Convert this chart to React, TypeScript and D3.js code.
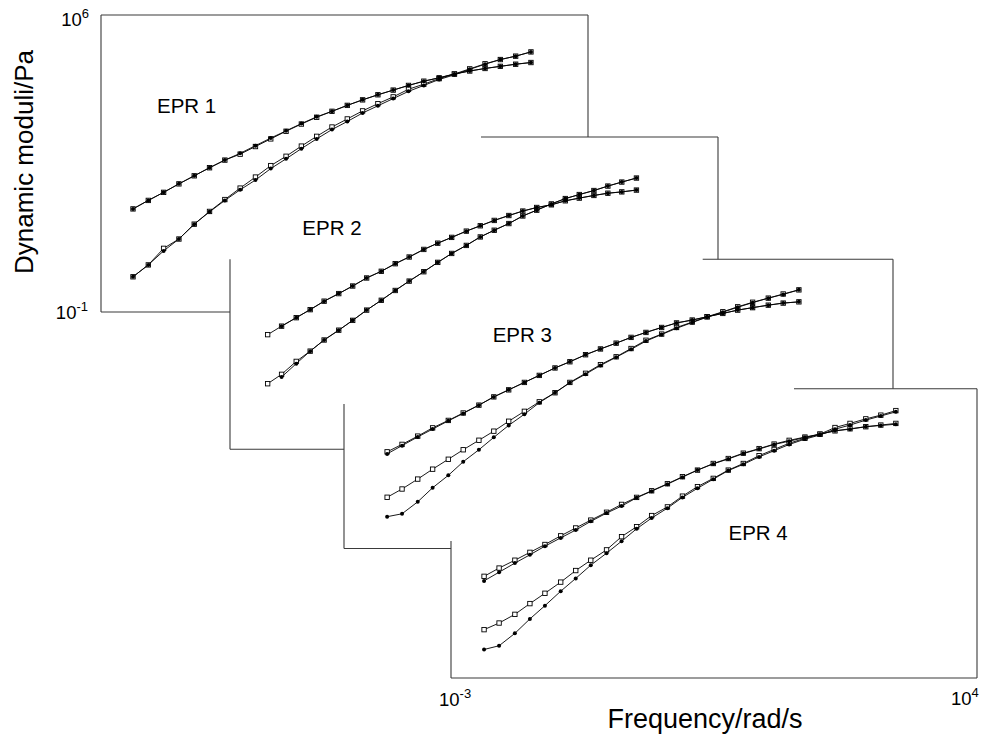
import React from 'react';
import * as d3 from 'd3';

// ---------- DATA (log10 of frequency in rad/s, log10 of modulus in Pa) ----------
const EPR1_LOGF = [-2.54,-2.32,-2.10,-1.88,-1.66,-1.44,-1.22,-1.00,-0.78,-0.56,-0.34,-0.12,0.10,0.32,0.54,0.76,0.98,1.20,1.42,1.64,1.86,2.08,2.30,2.52,2.74,2.96,3.18];
const EPR1_G2_OPEN = [1.43,1.63,1.82,2.02,2.21,2.40,2.58,2.72,2.90,3.08,3.26,3.43,3.59,3.73,3.87,4.00,4.12,4.23,4.34,4.44,4.52,4.61,4.68,4.74,4.79,4.84,4.88];
const EPR1_G2_FILLED = [1.43,1.63,1.82,2.02,2.21,2.40,2.58,2.74,2.92,3.10,3.27,3.44,3.60,3.73,3.87,4.00,4.12,4.23,4.34,4.44,4.52,4.61,4.68,4.74,4.79,4.84,4.88];
const EPR1_G1_OPEN = [-0.17,0.11,0.50,0.72,1.07,1.37,1.65,1.92,2.18,2.45,2.67,2.91,3.14,3.36,3.55,3.74,3.91,4.07,4.25,4.37,4.50,4.61,4.73,4.85,4.95,5.03,5.13];
const EPR1_G1_FILLED = [-0.17,0.11,0.44,0.72,1.07,1.36,1.63,1.88,2.11,2.38,2.61,2.85,3.08,3.30,3.49,3.69,3.86,4.03,4.20,4.34,4.48,4.59,4.72,4.84,4.95,5.03,5.13];

const EPR2_LOGF = [-2.46,-2.26,-2.05,-1.85,-1.65,-1.44,-1.24,-1.04,-0.83,-0.63,-0.43,-0.22,-0.02,0.18,0.39,0.59,0.79,1.00,1.20,1.40,1.61,1.81,2.01,2.22,2.42,2.62,2.83];
const EPR2_G2_OPEN = [1.57,1.76,1.95,2.13,2.32,2.49,2.66,2.84,2.99,3.16,3.31,3.48,3.62,3.75,3.89,4.01,4.13,4.24,4.34,4.42,4.48,4.57,4.63,4.69,4.74,4.77,4.81];
const EPR2_G2_FILLED = [null,1.76,1.95,2.13,2.32,2.49,2.66,2.84,2.99,3.16,3.31,3.48,3.62,3.75,3.89,4.01,4.13,4.24,4.34,4.42,4.48,4.57,4.63,4.69,4.74,4.77,4.81];
const EPR2_G1_OPEN = [0.47,0.68,0.97,1.20,1.45,1.67,1.89,2.12,2.34,2.56,2.77,2.98,3.19,3.39,3.57,3.76,3.91,4.06,4.23,4.36,4.50,4.62,4.71,4.80,4.90,4.99,5.08];
const EPR2_G1_FILLED = [null,0.62,0.92,1.20,1.45,1.67,1.89,2.12,2.34,2.56,2.77,2.98,3.19,3.39,3.57,3.76,3.91,4.06,4.23,4.36,4.50,4.62,4.71,4.80,4.90,4.99,5.08];

const EPR3_LOGF = [-2.45,-2.26,-2.06,-1.87,-1.67,-1.48,-1.28,-1.09,-0.90,-0.70,-0.51,-0.31,-0.12,0.08,0.27,0.47,0.66,0.85,1.05,1.24,1.44,1.63,1.83,2.02,2.21,2.41,2.60,2.80];
const EPR3_G2_OPEN = [1.34,1.52,1.72,1.92,2.10,2.28,2.47,2.67,2.84,3.02,3.19,3.37,3.52,3.69,3.83,3.97,4.11,4.23,4.35,4.46,4.53,4.61,4.69,4.77,4.83,4.89,4.94,4.97];
const EPR3_G2_FILLED = [1.29,1.49,1.70,1.89,2.09,2.27,2.47,2.67,2.84,3.02,3.19,3.37,3.52,3.69,3.83,3.97,4.11,4.23,4.35,4.46,4.53,4.61,4.69,4.77,4.83,4.89,4.94,4.97];
const EPR3_G1_OPEN = [0.24,0.44,0.68,0.92,1.16,1.39,1.62,1.84,2.08,2.32,2.55,2.77,3.02,3.24,3.45,3.64,3.84,4.04,4.19,4.35,4.48,4.61,4.73,4.85,4.96,5.06,5.16,5.26];
const EPR3_G1_FILLED = [-0.23,-0.16,0.13,0.47,0.77,1.10,1.39,1.69,1.98,2.25,2.53,2.77,3.01,3.22,3.43,3.63,3.82,4.02,4.18,4.33,4.47,4.60,4.72,4.84,4.95,5.06,5.15,5.26];

const EPR4_LOGF = [-2.56,-2.36,-2.15,-1.95,-1.75,-1.54,-1.34,-1.14,-0.93,-0.73,-0.53,-0.33,-0.12,0.08,0.28,0.49,0.69,0.89,1.10,1.30,1.50,1.71,1.91,2.11,2.31,2.52,2.72,2.92];
const EPR4_G2_OPEN = [1.46,1.66,1.85,2.04,2.23,2.44,2.63,2.82,3.01,3.20,3.37,3.53,3.70,3.87,4.03,4.19,4.31,4.44,4.55,4.66,4.75,4.83,4.90,4.98,5.03,5.08,5.12,5.16];
const EPR4_G2_FILLED = [1.35,1.56,1.78,1.98,2.19,2.39,2.58,2.79,2.99,3.16,3.36,3.52,3.69,3.86,4.03,4.18,4.30,4.43,4.54,4.65,4.73,4.82,4.90,4.98,5.02,5.08,5.11,5.14];
const EPR4_G1_OPEN = [0.17,0.33,0.54,0.80,1.05,1.32,1.60,1.85,2.10,2.42,2.66,2.93,3.14,3.40,3.63,3.83,4.03,4.19,4.38,4.53,4.68,4.80,4.90,5.06,5.16,5.27,5.36,5.47];
const EPR4_G1_FILLED = [-0.31,-0.22,0.08,0.43,0.75,1.10,1.41,1.73,2.02,2.31,2.61,2.87,3.11,3.37,3.59,3.81,4.02,4.17,4.35,4.50,4.65,4.78,4.88,5.02,5.12,5.24,5.34,5.44];

const PANEL_NAMES = ['EPR 1', 'EPR 2', 'EPR 3', 'EPR 4'];
const X_DOMAIN = [1e-3, 1e4];
const Y_DOMAIN = [1e-1, 1e6];
const X_TICKS = [{ base: '10', exp: '-3' }, { base: '10', exp: '4' }];
const Y_TICKS = [{ base: '10', exp: '6' }, { base: '10', exp: '-1' }];
const X_TITLE = 'Frequency/rad/s';
const Y_TITLE = 'Dynamic moduli/Pa';

const SERIES = [
  { logf: EPR1_LOGF, open: [EPR1_G2_OPEN, EPR1_G1_OPEN], filled: [EPR1_G2_FILLED, EPR1_G1_FILLED] },
  { logf: EPR2_LOGF, open: [EPR2_G2_OPEN, EPR2_G1_OPEN], filled: [EPR2_G2_FILLED, EPR2_G1_FILLED] },
  { logf: EPR3_LOGF, open: [EPR3_G2_OPEN, EPR3_G1_OPEN], filled: [EPR3_G2_FILLED, EPR3_G1_FILLED] },
  { logf: EPR4_LOGF, open: [EPR4_G2_OPEN, EPR4_G1_OPEN], filled: [EPR4_G2_FILLED, EPR4_G1_FILLED] },
];

// ---------- LAYOUT ----------
const W = 985;
const H = 738;
const FONT = '"Liberation Sans", Arial, Helvetica, sans-serif';

const LAYOUT = [
  { x0: 101, x1: 588, y0: 15, y1: 312, topFrom: 101, leftFrom: 15, rightTo: 137, bottomTo: 230, lx: 157, ly: 113 },
  { x0: 230, x1: 718, y0: 137, y1: 449.3, topFrom: 481, leftFrom: 259.3, rightTo: 259.3, bottomTo: 344, lx: 302.3, ly: 235.3 },
  { x0: 344, x1: 893, y0: 259.3, y1: 548.5, topFrom: 702.7, leftFrom: 404, rightTo: 388.7, bottomTo: 451, lx: 492.7, ly: 341.5 },
  { x0: 451, x1: 977, y0: 388.7, y1: 678, topFrom: 794, leftFrom: 541, rightTo: 678, bottomTo: 977, lx: 728.5, ly: 540 },
];

type Pt = { x: number; y: number };

function Panel({ idx }: { idx: number }) {
  const L = LAYOUT[idx];
  const S = SERIES[idx];
  const xs = d3.scaleLog().domain(X_DOMAIN).range([L.x0, L.x1]);
  const ys = d3.scaleLog().domain(Y_DOMAIN).range([L.y1, L.y0]);
  const toPts = (vals: (number | null)[]): Pt[] =>
    vals
      .map((v, i) => (v == null ? null : { x: xs(Math.pow(10, S.logf[i])), y: ys(Math.pow(10, v)) }))
      .filter((p): p is Pt => p !== null);
  const line = d3.line<Pt>().x(d => d.x).y(d => d.y);
  const sq = 4.4;
  const frameColor = '#3a3a3a';
  return (
    <g>
      <g stroke={frameColor} strokeWidth={1.1} fill="none">
        <line x1={L.topFrom} y1={L.y0} x2={L.x1} y2={L.y0} />
        <line x1={L.x1} y1={L.y0} x2={L.x1} y2={L.rightTo} />
        <line x1={L.x0} y1={L.leftFrom} x2={L.x0} y2={L.y1} />
        <line x1={L.x0} y1={L.y1} x2={L.bottomTo} y2={L.y1} />
      </g>
      {S.open.map((vals, k) => {
        const pts = toPts(vals);
        return (
          <g key={'o' + k}>
            <path d={line(pts) || ''} fill="none" stroke="#000" strokeWidth={0.9} />
            {pts.map((p, i) => (
              <rect key={i} x={p.x - sq / 2} y={p.y - sq / 2} width={sq} height={sq} fill="#fff" stroke="#000" strokeWidth={0.9} />
            ))}
          </g>
        );
      })}
      {S.filled.map((vals, k) => {
        const pts = toPts(vals);
        return (
          <g key={'f' + k}>
            <path d={line(pts) || ''} fill="none" stroke="#000" strokeWidth={0.9} />
            {pts.map((p, i) => (
              <circle key={i} cx={p.x} cy={p.y} r={2} fill="#000" />
            ))}
          </g>
        );
      })}
      <text x={L.lx} y={L.ly} fontSize={20.5} fontFamily={FONT} fill="#000">
        {PANEL_NAMES[idx]}
      </text>
    </g>
  );
}

export default function App() {
  const P1 = LAYOUT[0];
  const P4 = LAYOUT[3];
  return (
    <svg
      width={W}
      height={H}
      viewBox={`0 0 ${W} ${H}`}
      style={{ position: 'absolute', left: 0, top: 0, background: '#fff' }}
    >
      <rect x={0} y={0} width={W} height={H} fill="#fff" />
      {LAYOUT.map((_, i) => (
        <Panel key={i} idx={i} />
      ))}
      {/* y tick labels */}
      <text x={89} y={P1.y0 + 11} textAnchor="end" fontSize={18.5} fontFamily={FONT}>
        {Y_TICKS[0].base}
        <tspan fontSize={13} dy={-8}>{Y_TICKS[0].exp}</tspan>
      </text>
      <text x={88} y={P1.y1 + 7} textAnchor="end" fontSize={18.5} fontFamily={FONT}>
        {Y_TICKS[1].base}
        <tspan fontSize={13} dy={-8}>{Y_TICKS[1].exp}</tspan>
      </text>
      {/* x tick labels */}
      <text x={439} y={P4.y1 + 28} textAnchor="start" fontSize={18.5} fontFamily={FONT}>
        {X_TICKS[0].base}
        <tspan fontSize={13} dy={-8}>{X_TICKS[0].exp}</tspan>
      </text>
      <text x={951} y={P4.y1 + 27} textAnchor="start" fontSize={18.5} fontFamily={FONT}>
        {X_TICKS[1].base}
        <tspan fontSize={13} dy={-8}>{X_TICKS[1].exp}</tspan>
      </text>
      {/* axis titles */}
      <text x={705} y={728} textAnchor="middle" fontSize={27} fontFamily={FONT}>
        {X_TITLE}
      </text>
      <text transform="translate(33,162) rotate(-90)" textAnchor="middle" fontSize={26} fontFamily={FONT}>
        {Y_TITLE}
      </text>
    </svg>
  );
}
